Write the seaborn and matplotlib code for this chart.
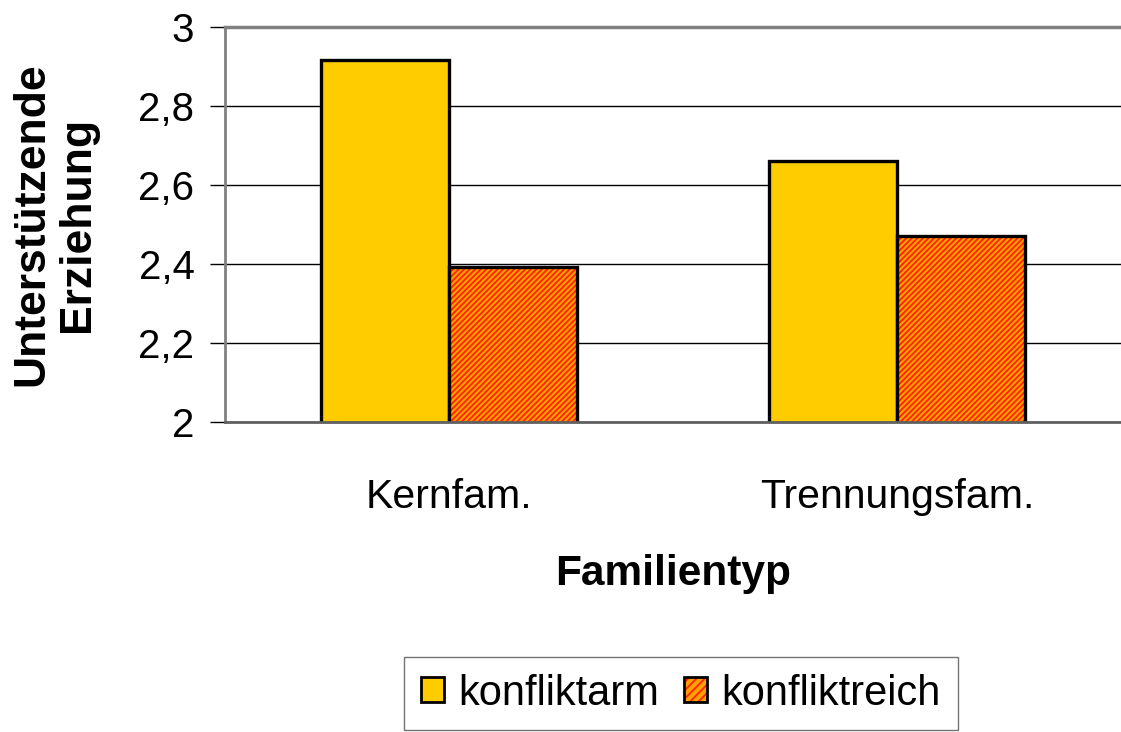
import pandas as pd
import matplotlib.pyplot as plt
import seaborn as sns
from matplotlib.patches import Patch, Rectangle
from matplotlib.legend_handler import HandlerTuple

categories = ["Kernfam.", "Trennungsfam."]
konfliktarm = [2.916, 2.661]
konfliktreich = [2.392, 2.471]
series_names = ["konfliktarm", "konfliktreich"]
y_ticks = [2, 2.2, 2.4, 2.6, 2.8, 3]
y_ticklabels = ["2", "2,2", "2,4", "2,6", "2,8", "3"]

df = pd.DataFrame({
    "Familientyp": categories * 2,
    "Gruppe": [series_names[0]] * 2 + [series_names[1]] * 2,
    "Wert": konfliktarm + konfliktreich,
})

sns.set_style("white")
plt.rcParams["font.family"] = ["Liberation Sans", "DejaVu Sans"]
plt.rcParams["text.color"] = "black"
plt.rcParams["axes.labelcolor"] = "black"
plt.rcParams["xtick.color"] = "black"
plt.rcParams["ytick.color"] = "black"
plt.rcParams["hatch.linewidth"] = 1.3

YELLOW = "#FFCC00"
ORANGE = "#FFA200"
HATCH_RED = "#FF2200"

fig = plt.figure(figsize=(11.21, 7.32), dpi=100)
ax = fig.add_axes([225 / 1121, 1 - 422 / 732, 1 - 225 / 1121, 395 / 732])

colors = {"konfliktarm": YELLOW, "konfliktreich": ORANGE}
sns.barplot(data=df, x="Familientyp", y="Wert", hue="Gruppe", palette=colors,
            width=0.57, edgecolor="black", linewidth=2.4, saturation=1,
            legend=False, ax=ax)

# hatch overlay on the second series (hatch is drawn in the edge colour)
n = len(categories)
for bar in ax.patches[n:2 * n]:
    z = bar.get_zorder()
    ax.add_patch(Rectangle(bar.get_xy(), bar.get_width(), bar.get_height(),
                           facecolor=ORANGE, edgecolor="none", linewidth=0, zorder=z))
    ax.add_patch(Rectangle(bar.get_xy(), bar.get_width(), bar.get_height(),
                           facecolor="none", edgecolor=HATCH_RED, linewidth=0,
                           hatch="//////", zorder=z + 0.01))
    bar.set_facecolor("none")
    bar.set_zorder(z + 0.02)

ax.set_ylim(2, 3)
ax.set_xlim(-0.5, 1.5 - 12 / 454)
ax.set_yticks(y_ticks)
ax.set_yticklabels(y_ticklabels, fontsize=29)
ax.yaxis.grid(True, color="black", linewidth=1)
ax.set_axisbelow(True)

ax.set_xticks([0, 1])
ax.set_xticklabels(categories, fontsize=29.5)
ax.tick_params(axis="x", length=0, pad=40)
ax.set_xticks([-0.5, 0.5, 1.5], minor=True)
ax.tick_params(axis="x", which="minor", length=12, width=1, color="black", direction="out")
ax.tick_params(axis="y", length=11, width=1, color="black", direction="out", left=True, pad=11)

ax.spines["right"].set_visible(False)
ax.spines["left"].set_color("#808080")
ax.spines["left"].set_linewidth(2)
ax.spines["top"].set_color("#808080")
ax.spines["top"].set_linewidth(2.5)
ax.spines["bottom"].set_color("#606060")
ax.spines["bottom"].set_linewidth(2)

ax.set_xlabel("Familientyp", fontsize=30.5, fontweight="bold", labelpad=28)
ax.set_ylabel("Unterstützende\nErziehung", fontsize=32, fontweight="bold",
              linespacing=1.15)
ax.yaxis.set_label_coords(-127 / 896, 0.5)

hatched = (
    Patch(facecolor=ORANGE, edgecolor="none", linewidth=0),
    Patch(facecolor="none", edgecolor=HATCH_RED, linewidth=0, hatch="////"),
    Patch(facecolor="none", edgecolor="black", linewidth=2),
)
handles = [Patch(facecolor=YELLOW, edgecolor="black", linewidth=2), hatched]
leg = fig.legend(handles, series_names, loc="upper left",
                 bbox_to_anchor=(404 / 1121, 1 - 657 / 732), ncol=2, fontsize=30,
                 frameon=True, fancybox=False, handlelength=0.55, handleheight=0.55,
                 handletextpad=0.36, columnspacing=0.58, borderpad=0.4,
                 borderaxespad=0, handler_map={tuple: HandlerTuple(ndivide=1)})
leg.get_frame().set_edgecolor("#505050")
leg.get_frame().set_linewidth(1)

fig.savefig("out.png", dpi=100)
